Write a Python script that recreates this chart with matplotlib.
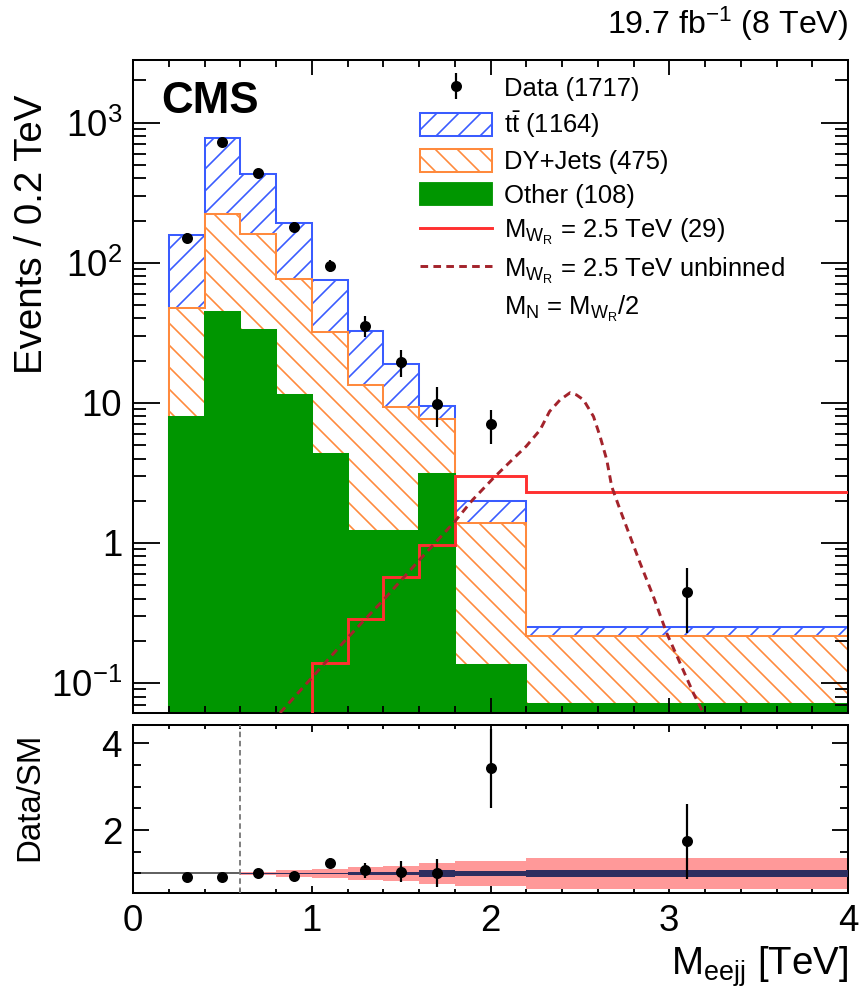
import numpy as np
import matplotlib.pyplot as plt
from matplotlib.patches import Patch
from matplotlib.lines import Line2D
from matplotlib.ticker import LogLocator, MultipleLocator, FuncFormatter, NullFormatter

DPI = 132

plt.rcParams['font.family'] = ['Liberation Sans', 'DejaVu Sans']
plt.rcParams['mathtext.fontset'] = 'custom'
plt.rcParams['mathtext.rm'] = 'Liberation Sans'
plt.rcParams['mathtext.it'] = 'Liberation Sans:italic'
plt.rcParams['mathtext.bf'] = 'Liberation Sans:bold'
plt.rcParams['hatch.linewidth'] = 0.9

# ---- data ----
bkg_edges = [0.2, 0.4, 0.6, 0.8, 1.0, 1.2, 1.4, 1.6, 1.8, 2.2, 4.0]
# stacked tops (Events / 0.2 TeV)
other_top = [7.9, 44.7, 33.0, 11.4, 4.3, 1.22, 1.22, 3.1, 0.134, 0.0708]
dy_top = [47.7, 224, 161, 76.9, 32.0, 13.4, 9.4, 7.6, 1.39, 0.217]
tt_top = [158, 781, 432, 193, 75.6, 32.7, 19.0, 9.5, 2.0, 0.251]

sig_edges = [0.0, 0.2, 0.4, 0.6, 0.8, 1.0, 1.2, 1.4, 1.6, 1.8, 2.2, 4.0]
sig_binned = [0.01, 0.01, 0.02, 0.03, 0.05, 0.139, 0.286, 0.57, 0.97, 3.0, 2.31]

# unbinned signal shape
sig_x = [0.822, 1.0, 1.2, 1.4, 1.6, 1.8, 1.9, 2.016, 2.128, 2.2, 2.277, 2.33,
         2.389, 2.445, 2.48, 2.52, 2.576, 2.613, 2.65, 2.678, 2.725, 2.781,
         2.837, 2.911, 2.986, 3.061, 3.135, 3.19]
sig_y = [0.061, 0.109, 0.21, 0.39, 0.75, 1.42, 2.03, 2.9, 4.0, 4.9, 6.4, 8.67,
         10.5, 11.8, 11.4, 10.5, 7.98, 5.74, 3.92, 2.52, 1.72, 1.11,
         0.716, 0.414, 0.226, 0.138, 0.0844, 0.061]

data_x = [0.3, 0.5, 0.7, 0.9, 1.1, 1.3, 1.5, 1.7, 2.0, 3.1]
data_y = [150, 731, 440, 181, 95, 35.5, 19.6, 9.8, 7.0, 0.447]
data_err = [12, 27, 21, 13.5, 9.8, 6.0, 4.4, 3.1, 1.9, 0.22]

ratio_y = [0.915, 0.915, 1.0, 0.94, 1.25, 1.07, 1.04, 1.02, 3.42, 1.74]
ratio_err = [0.08, 0.04, 0.05, 0.07, 0.1, 0.17, 0.24, 0.32, 0.92, 0.86]

band_edges = [0.6, 0.8, 1.0, 1.2, 1.4, 1.6, 1.8, 2.2, 4.0]
syst_band = [0.04, 0.07, 0.10, 0.15, 0.18, 0.24, 0.28, 0.36]
stat_band = [0.015, 0.015, 0.02, 0.025, 0.03, 0.07, 0.05, 0.08]

BLUE = '#3a5cff'
ORANGE = '#ff8a3d'
GREEN = '#009600'
RED = '#ff3030'
DARKRED = '#a3232b'

fig = plt.figure(figsize=(860 / DPI, 995 / DPI), dpi=DPI)
ax = fig.add_axes([0.1547, 0.2834, 0.8314, 0.6563])
ax2 = fig.add_axes([0.1547, 0.1025, 0.8314, 0.1688])

# ---- main panel ----
ax.stairs(tt_top, bkg_edges, baseline=1e-3, fill=True, facecolor='white',
          edgecolor=BLUE, hatch='//', lw=1.1)
ax.stairs(dy_top, bkg_edges, baseline=1e-3, fill=True, facecolor='white',
          edgecolor=ORANGE, hatch='\\\\', lw=1.1)
ax.stairs(other_top, bkg_edges, baseline=1e-3, fill=True, facecolor=GREEN,
          edgecolor=GREEN, lw=1.1)
ax.stairs(sig_binned, sig_edges, baseline=None, color=RED, lw=1.6, zorder=3)
ax.plot(sig_x, sig_y, color=DARKRED, lw=1.6, dashes=(2.6, 1.8), zorder=3)
dat = ax.errorbar(data_x, data_y, yerr=data_err, fmt='o', color='black',
                  ms=5, elinewidth=1.2, capsize=0, zorder=5)

ax.set_xlim(0, 4)
ax.set_yscale('log')
ax.set_ylim(0.061, 2800)


def log_fmt(v, pos):
    e = int(round(np.log10(v)))
    if e == 0:
        return '1'
    if e == 1:
        return '10'
    return r'10$^{%d}$' % e


ax.yaxis.set_major_locator(LogLocator(base=10))
ax.yaxis.set_minor_locator(LogLocator(base=10, subs=np.arange(2, 10)))
ax.yaxis.set_major_formatter(FuncFormatter(log_fmt))
ax.yaxis.set_minor_formatter(NullFormatter())
ax.xaxis.set_major_locator(MultipleLocator(1))
ax.xaxis.set_minor_locator(MultipleLocator(0.2))
ax.tick_params(which='both', direction='in', top=True, right=True, width=1.0,
               labelbottom=False, labelsize=20, pad=6)
ax.tick_params(axis='x', which='major', length=8)
ax.tick_params(axis='x', which='minor', length=4)
ax.tick_params(axis='y', which='major', length=14.5)
ax.tick_params(axis='y', which='minor', length=7)
for s in ax.spines.values():
    s.set_linewidth(1.1)

ax.text(0.04, 0.968, 'CMS', transform=ax.transAxes, fontsize=24,
        fontweight='bold', va='top', ha='left')

handles = [
    dat,
    Patch(facecolor='white', edgecolor=BLUE, hatch='//', lw=1.1),
    Patch(facecolor='white', edgecolor=ORANGE, hatch='\\\\', lw=1.1),
    Patch(facecolor=GREEN, edgecolor=GREEN),
    Line2D([], [], color=RED, lw=1.6),
    Line2D([], [], color=DARKRED, lw=1.6, dashes=(2.6, 1.8)),
    Line2D([], [], color='none'),
]
labels = [
    'Data (1717)',
    r't$\bar{\mathrm{t}}$ (1164)',
    'DY+Jets (475)',
    'Other (108)',
    r'M$_{\mathrm{W_R}}$ = 2.5 TeV (29)',
    r'M$_{\mathrm{W_R}}$ = 2.5 TeV unbinned',
    r'M$_\mathrm{N}$ = M$_{\mathrm{W_R}}$/2',
]
ax.legend(handles, labels, loc='upper left', bbox_to_anchor=(0.401, 0.976),
          frameon=False, fontsize=14, borderpad=0, borderaxespad=0,
          handlelength=2.8, handleheight=0.97, handletextpad=0.5,
          labelspacing=0.34)

# ---- ratio panel ----
ax2.axhline(1, color='#555555', lw=1.0, zorder=1)
ax2.stairs(np.add(1, syst_band), band_edges, baseline=np.subtract(1, syst_band),
           fill=True, color='#ff9999', zorder=2)
ax2.stairs(np.add(1, stat_band), band_edges, baseline=np.subtract(1, stat_band),
           fill=True, color='#2e2e60', zorder=3)
ax2.axvline(0.6, color='#777777', lw=1.0, ls=(0, (3, 2)), zorder=3)
ax2.errorbar(data_x, ratio_y, yerr=ratio_err, fmt='o', color='black', ms=5,
             elinewidth=1.2, capsize=0, zorder=5)
ax2.set_xlim(0, 4)
ax2.set_ylim(0.55, 4.42)
ax2.xaxis.set_major_locator(MultipleLocator(1))
ax2.xaxis.set_minor_locator(MultipleLocator(0.2))
ax2.yaxis.set_major_locator(MultipleLocator(2))
ax2.yaxis.set_minor_locator(MultipleLocator(0.5))
ax2.yaxis.set_major_formatter(FuncFormatter(lambda v, p: '%d' % v))
ax2.tick_params(which='both', direction='in', top=True, right=True, width=1.0,
                labelsize=20, pad=6)
ax2.tick_params(axis='x', which='major', length=4)
ax2.tick_params(axis='x', which='minor', length=2.2)
ax2.tick_params(axis='y', which='major', length=8.7)
ax2.tick_params(axis='y', which='minor', length=4.4)
for s in ax2.spines.values():
    s.set_linewidth(1.1)

# ---- labels ----
fig.text(32 / 860, 1 - 95 / 995, 'Events / 0.2 TeV', rotation=90,
         ha='center', va='top', fontsize=21)
fig.text(30 / 860, 1 - 797 / 995, 'Data/SM', rotation=90,
         ha='center', va='center', fontsize=18)
fig.text(848 / 860, 1 - 975 / 995, r'M$_{\mathrm{eejj}}$ [TeV]',
         ha='right', va='baseline', fontsize=21)
fig.text(848 / 860, 1 - 34 / 995, r'19.7 fb$^{\mathrm{-1}}$ (8 TeV)',
         ha='right', va='baseline', fontsize=17.5)

fig.savefig('out.png', dpi=DPI)
